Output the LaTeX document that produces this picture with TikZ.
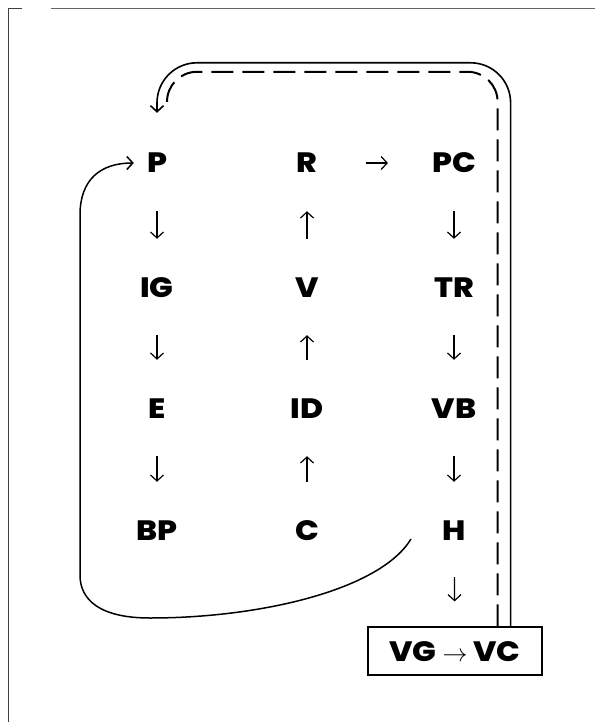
\documentclass[tikz,border=0pt]{standalone}
\usepackage{fontspec}
\setmainfont{Poppins}[BoldFont={Poppins ExtraBold}, BoldFeatures={FakeStretch=1.12}]
\usetikzlibrary{arrows.meta}

\tikzset{
  lbl/.style={inner sep=0pt, text height=20pt, text depth=0pt,
    font=\fontsize{28}{30}\selectfont\bfseries},
  fl/.style={-{Straight Barb[length=6pt,width=13pt]}, line width=1.2pt,
    shorten <=38pt, shorten >=38pt},
}

\begin{document}
\begin{tikzpicture}[x=1pt, y=-1pt]
    \useasboundingbox (0, 0) rectangle (595, 722);

    % cadre
    \draw[draw=black!75, line width=1pt] (22, 9) -- (8, 9) -- (8, 722);
    \draw[draw=black!60, line width=1pt] (51, 9) -- (595, 9);

    % colonne gauche
    \node[lbl] (P)  at (157, 163) {P};
    \node[lbl] (IG) at (157, 287) {IG};
    \node[lbl] (E)  at (157, 408) {E};
    \node[lbl] (BP) at (157, 530) {BP};

    % colonne du milieu
    \node[lbl] (R)  at (307, 163) {R};
    \node[lbl] (V)  at (307, 287) {V};
    \node[lbl] (ID) at (307, 408) {ID};
    \node[lbl] (C)  at (307, 530) {C};

    % colonne droite
    \node[lbl] (PC) at (454, 163) {PC};
    \node[lbl] (TR) at (454, 287) {TR};
    \node[lbl] (VB) at (454, 408) {VB};
    \node[lbl] (H)  at (454, 530) {H};

    \node[lbl, draw, line width=1.2pt, minimum width=174pt, minimum height=48pt,
      text height=20pt] (VGC) at (455, 651) {VG $\rightarrow$ VC};

    % fleches
    \draw[fl] (P) -- (IG);
    \draw[fl] (IG) -- (E);
    \draw[fl] (E) -- (BP);
    \draw[fl] (C) -- (ID);
    \draw[fl] (ID) -- (V);
    \draw[fl] (V) -- (R);
    \draw[fl, shorten <=48pt, shorten >=44pt] (R) -- (PC);
    \draw[fl] (PC) -- (TR);
    \draw[fl] (TR) -- (VB);
    \draw[fl] (VB) -- (H);
    \draw[fl, shorten <=37pt, shorten >=25pt] (H) -- (VGC);

    % boucle du bas
    \coordinate (Hout) at (411, 539);
    \draw[line width=1.5pt, -{Straight Barb[length=6pt,width=13pt]}, shorten >=13pt]
      (Hout) .. controls (380, 590) and (260, 618) .. (150, 618)
      .. controls (100, 618) and (80, 600) .. (80, 575) -- (80, 215)
      .. controls (80, 180) and (100, 163) .. (P.west);

    % boucle du haut
    \draw[line width=1.6pt, rounded corners=40pt, shorten >=40pt,
      -{Straight Barb[length=6pt,width=13pt]}]
      ([xshift=-32pt]VGC.north east) |- ([yshift=90pt]P.north) -- (P.north);
    \draw[line width=2pt, rounded corners=30pt, dash pattern=on 22pt off 9pt]
      ([xshift=-45pt]VGC.north east) |- ([xshift=10pt, yshift=81pt]P.north)
      -- ([xshift=10pt, yshift=56pt]P.north);

  \end{tikzpicture}
\end{document}
